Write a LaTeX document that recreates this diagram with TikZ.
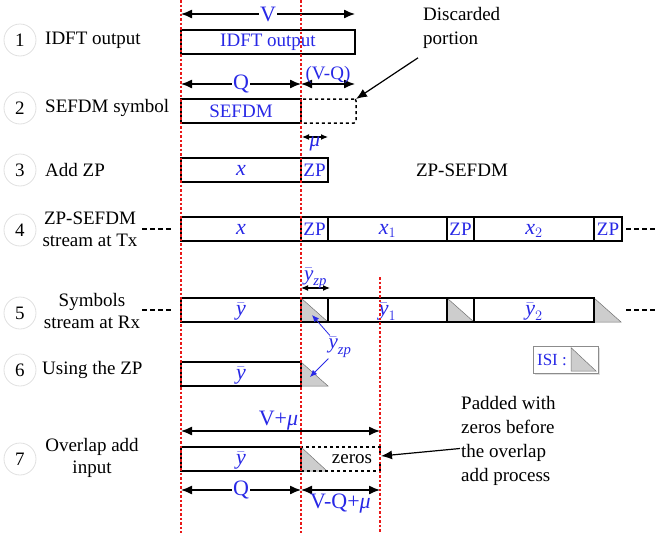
\documentclass[tikz,border=0pt]{standalone}
\usepackage{amsmath}
\usepackage{fontspec}
\setmainfont{Liberation Serif}
\usetikzlibrary{arrows.meta,positioning,calc,shadows,backgrounds}
\definecolor{labcol}{RGB}{40,40,230}
\definecolor{guidecol}{RGB}{232,24,24}
\definecolor{isicol}{RGB}{205,205,205}
\newcommand{\mi}[1]{\textit{#1}}

\begin{document}
\begin{tikzpicture}[
    x=1pt, y=-1pt,
    >={Latex[length=11pt,width=9pt]},
    seg/.style={rectangle, draw, line width=1.5pt, minimum height=24pt, inner sep=0pt, outer sep=0pt, text=labcol, font=\fontsize{19}{22}\selectfont},
    mathseg/.style={seg, font=\fontsize{22}{24}\selectfont, text height=11pt, text depth=0pt},
    gap/.style={seg, dashed, text=black},
    numc/.style={circle, draw=black!12, line width=0.8pt, minimum size=32pt, inner sep=0pt, font=\fontsize{19}{22}\selectfont},
    rowlab/.style={align=center, inner sep=0pt, font=\fontsize{19}{22}\selectfont},
    note/.style={align=left, inner sep=1pt, font=\fontsize{19}{24}\selectfont},
    dim/.style={<->, line width=1.3pt},
    tinydim/.style={{Latex[length=7pt,width=6pt]}-{Latex[length=7pt,width=6pt]}, line width=1.1pt},
    dimlab/.style={text=labcol, inner sep=1pt, font=\fontsize{22}{24}\selectfont},
    smalllab/.style={text=labcol, inner sep=1pt, font=\fontsize{19}{22}\selectfont},
    mathlab/.style={text=labcol, inner sep=1pt, font=\fontsize{21}{22}\selectfont},
    guide/.style={draw=guidecol, line width=1.4pt, dash pattern=on 2.5pt off 2pt},
    tail/.style={line width=2.2pt, dash pattern=on 5pt off 3pt},
    tri/.style={fill=isicol, draw=black!55, line width=0.5pt},
    callout/.style={->, line width=1.2pt},
    bluecall/.style={-{Latex[length=7pt,width=6pt]}, draw=labcol, line width=0.8pt},
]
\useasboundingbox (0,0) rectangle (657,533);

\node[numc] (n1) at (20,40) {1};
\node[rowlab, anchor=west] (l1) at (45,40) {IDFT output};
\node[numc] (n2) at (20,108) {2};
\node[rowlab, anchor=west] (l2) at (45,108) {SEFDM symbol};
\node[numc] (n3) at (20,170) {3};
\node[rowlab, anchor=west] (l3) at (45,170) {Add ZP};
\node[numc] (n4) at (20,230) {4};
\node[rowlab] (l4) at (90,229) {ZP-SEFDM\\stream at Tx};
\node[numc] (n5) at (20,313) {5};
\node[rowlab] (l5) at (92,311) {Symbols\\stream at Rx};
\node[numc] (n6) at (20,370) {6};
\node[rowlab, anchor=west] (l6) at (42,370) {Using the ZP};
\node[numc] (n7) at (20,459) {7};
\node[rowlab] (l7) at (92,458) {Overlap add\\input};

\node[seg, minimum width=174pt] (idft) at (268,42) {IDFT output};
\coordinate (v0) at (181,14);
\coordinate (v1) at (355,14);
\draw[dim] (v0) -- (v1) node[midway, fill=white, dimlab] (vlab) {V};

\node[seg, minimum width=120pt] (sefdm) at (241,111) {SEFDM};
\node[gap, minimum width=55pt, rounded corners=2pt, right=0pt of sefdm] (disc) {};
\coordinate (q0) at (181,84);
\coordinate (q1) at (301,84);
\coordinate (q2) at (355,84);
\draw[dim] (q0) -- (q1) node[midway, fill=white, dimlab] (qlab) {Q};
\draw[dim] (q1) -- (q2) node[midway, above=-1pt, smalllab] (vqlab) {(V-Q)};
\node[note, anchor=west] (disctxt) at (422,28) {Discarded\\portion};
\draw[callout] ([xshift=-4pt,yshift=-8pt]disctxt.south west) -- (disc.north east);

\node[mathseg, minimum width=120pt] (x3) at (241,170) {$\mi{x}$};
\node[seg, minimum width=27pt, right=0pt of x3] (zp3) {ZP};
\coordinate (m0) at (302,137);
\coordinate (m1) at (328,137);
\draw[tinydim] (m0) -- (m1) node[midway, below=-2pt, mathlab] (mulab) {\mi{μ}};
\node[rowlab] (zpsefdm) at (462,170) {ZP-SEFDM};

\node[mathseg, minimum width=120pt] (x4) at (241,229) {$\mi{x}$};
\node[seg, minimum width=27pt, right=0pt of x4] (zp4a) {ZP};
\node[mathseg, minimum width=119pt, right=0pt of zp4a] (x4a) {$\mi{x}_1$};
\node[seg, minimum width=27pt, right=0pt of x4a] (zp4b) {ZP};
\node[mathseg, minimum width=120pt, right=0pt of zp4b] (x4b) {$\mi{x}_2$};
\node[seg, minimum width=28pt, right=0pt of x4b] (zp4c) {ZP};
\coordinate (t4a) at (142,229);
\coordinate (t4b) at (172,229);
\coordinate (t4c) at (626,229);
\coordinate (t4d) at (657,229);
\draw[tail] (t4a) -- (t4b);
\draw[tail] (t4c) -- (t4d);

\node[mathseg, minimum width=120pt] (y5) at (241,310) {$\bar{\mi{y}}$};
\node[seg, minimum width=27pt, right=0pt of y5] (z5a) {};
\node[mathseg, minimum width=119pt, right=0pt of z5a] (y5a) {$\bar{\mi{y}}_1$};
\node[seg, minimum width=27pt, right=0pt of y5a] (z5b) {};
\node[mathseg, minimum width=120pt, right=0pt of z5b] (y5b) {$\bar{\mi{y}}_2$};
\coordinate (t5a) at (142,310);
\coordinate (t5b) at (172,310);
\coordinate (t5c) at (626,310);
\coordinate (t5d) at (657,310);
\draw[tail] (t5a) -- (t5b);
\draw[tail] (t5c) -- (t5d);
\coordinate (yz0) at (301,288);
\coordinate (yz1) at (330,288);
\draw[tinydim] (yz0) -- (yz1) node[midway, above=-2pt, mathlab] (yzlab) {$\bar{\mi{y}}_{\mi{zp}}$};

\node[mathseg, minimum width=120pt] (y6) at (241,374) {$\bar{\mi{y}}$};
\node[mathlab] (yzp) at (340,347) {$\bar{\mi{y}}_{\mi{zp}}$};
\coordinate (isi5) at (312,315);
\coordinate (isi6) at (310,377);
\draw[bluecall] (yzp) -- (isi5);
\draw[bluecall] (yzp) -- (isi6);

\node[draw=black!45, fill=white, drop shadow={opacity=0.25, shadow xshift=1.5pt, shadow yshift=-1.5pt}, minimum width=65pt, minimum height=27pt, inner sep=0pt] (isibox) at (565.5,359.5) {};
\node[smalllab, font=\fontsize{17}{20}\selectfont] (isilab) at (552,360) {ISI :};
\filldraw[tri] ([xshift=-27pt,yshift=-2pt]isibox.north east) -- ([xshift=-27pt,yshift=2pt]isibox.south east) -- ([xshift=-2pt,yshift=2pt]isibox.south east) -- cycle;

\node[mathseg, minimum width=120pt] (y7) at (241,459) {$\bar{\mi{y}}$};
\node[gap, minimum width=79pt, right=0pt of y7] (zr7) {};
\node[rowlab] (zlab) at (352,459) {zeros};
\coordinate (w0) at (181,431);
\coordinate (w1) at (380,431);
\draw[dim] (w0) -- (w1) node[pos=0.49, above=-1pt, dimlab] (wlab) {V+\mi{μ}};
\coordinate (r0) at (181,490);
\coordinate (r1) at (301,490);
\coordinate (r2) at (380,490);
\draw[dim] (r0) -- (r1) node[midway, fill=white, dimlab] (q7lab) {Q};
\draw[dim] (r1) -- (r2) node[midway, below=2pt, dimlab] (vqmlab) {V-Q+\mi{μ}};
\node[note, anchor=west] (pad) at (460,440.5) {Padded with\\zeros before\\the overlap\\add process};
\draw[callout] ([yshift=-8pt]pad.west) -- ([xshift=1pt,yshift=3pt]zr7.east);

\begin{scope}[on background layer]
\filldraw[tri] (z5a.north west) -- (z5a.south west) -- (z5a.south east) -- cycle;
\filldraw[tri] (z5b.north west) -- (z5b.south west) -- (z5b.south east) -- cycle;
\filldraw[tri] (y5b.north east) -- (y5b.south east) -- ([xshift=27pt]y5b.south east) -- cycle;
\filldraw[tri] (y6.north east) -- (y6.south east) -- ([xshift=27pt]y6.south east) -- cycle;
\filldraw[tri] (y7.north east) -- (y7.south east) -- ([xshift=26pt]y7.south east) -- cycle;
\end{scope}

\coordinate (ga0) at (181,0);
\coordinate (ga1) at (181,533);
\coordinate (gb0) at (301,0);
\coordinate (gb1) at (301,533);
\coordinate (gc0) at (380,277);
\coordinate (gc1) at (380,533);
\draw[guide] (ga0) -- (ga1);
\draw[guide] (gb0) -- (gb1);
\draw[guide] (gc0) -- (gc1);

\end{tikzpicture}
\end{document}
